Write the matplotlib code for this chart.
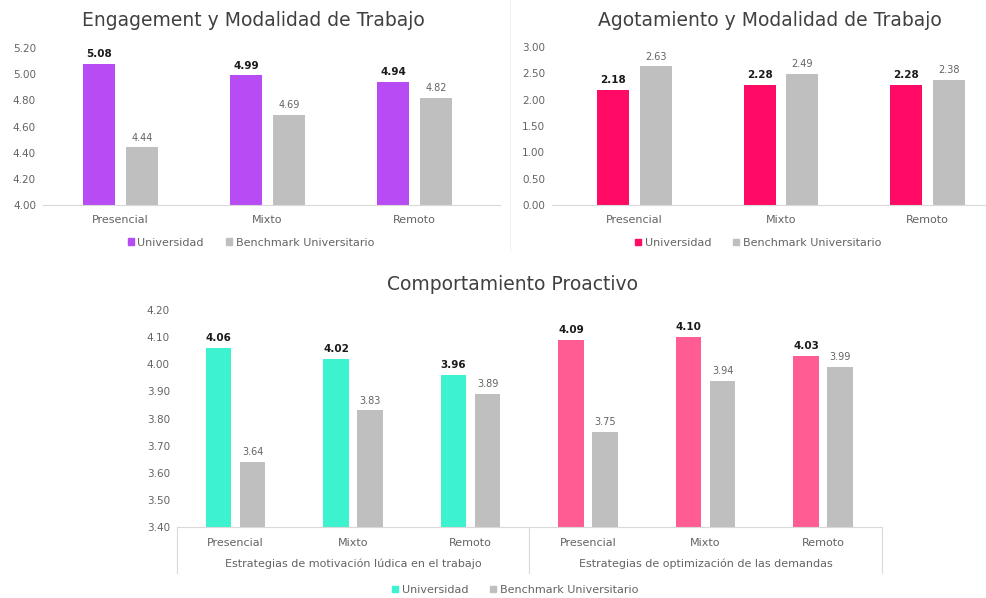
""" engagement, agotamiento y comportamiento proactivo por modalidad de trabajo """

import numpy as np
from matplotlib import pyplot as plt
from matplotlib.patches import Patch

plt.rcParams["font.family"] = ["DejaVu Sans"]

modalidades = ["Presencial", "Mixto", "Remoto"]

engagement_univ = [5.08, 4.99, 4.94]
engagement_bench = [4.44, 4.69, 4.82]
engagement_ticks = [4.00, 4.20, 4.40, 4.60, 4.80, 5.00, 5.20]

agotamiento_univ = [2.18, 2.28, 2.28]
agotamiento_bench = [2.63, 2.49, 2.38]
agotamiento_ticks = [0.00, 0.50, 1.00, 1.50, 2.00, 2.50, 3.00]

grupos_proactivo = ["Estrategias de motivación lúdica en el trabajo",
                    "Estrategias de optimización de las demandas"]
proactivo_univ = [4.06, 4.02, 3.96, 4.09, 4.10, 4.03]
proactivo_bench = [3.64, 3.83, 3.89, 3.75, 3.94, 3.99]
proactivo_ticks = [3.40, 3.50, 3.60, 3.70, 3.80, 3.90, 4.00, 4.10, 4.20]

PURPLE = "#B84CF4"
CRIMSON = "#FF0A64"
TEAL = "#3DF2CF"
ROSE = "#FF5C93"
GREY = "#BFBFBF"
TEXT = "#636363"
TITLE = "#404040"
AXIS = "#D9D9D9"

W, H = 987, 598
WIDTH = 0.22
OFFSET = 0.145


def px_axes(fig, left, top, right, bottom):
	""" add axes given in pixel coordinates measured from the top left corner """
	return fig.add_axes([left/W, 1 - bottom/H, (right - left)/W, (bottom - top)/H])


def style(ax, ticks):
	for side in ["top", "right", "left"]:
		ax.spines[side].set_visible(False)
	ax.spines["bottom"].set_color(AXIS)
	ax.set_yticks(ticks)
	ax.set_yticklabels([f"{t:.2f}" for t in ticks], fontsize=7.5, color=TEXT)
	ax.set_ylim(ticks[0], ticks[-1])
	ax.tick_params(axis="y", length=0, pad=5)
	ax.tick_params(axis="x", length=0, pad=7)


def draw_bars(ax, univ, bench, univ_colors):
	x = np.arange(len(univ))
	b1 = ax.bar(x - OFFSET, univ, WIDTH, color=univ_colors)
	b2 = ax.bar(x + OFFSET, bench, WIDTH, color=GREY)
	for rect, value in zip(b1, univ):
		ax.annotate(f"{value:.2f}", (rect.get_x() + rect.get_width()/2, value),
		            xytext=(0, 3.5), textcoords="offset points", ha="center", va="bottom",
		            fontsize=7.5, fontweight="bold", color="#1a1a1a")
	for rect, value in zip(b2, bench):
		ax.annotate(f"{value:.2f}", (rect.get_x() + rect.get_width()/2, value),
		            xytext=(0, 3.5), textcoords="offset points", ha="center", va="bottom",
		            fontsize=7, color=TEXT)
	return x


def legend(ax, color, x, y):
	handles = [Patch(color=color, label="Universidad"), Patch(color=GREY, label="Benchmark Universitario")]
	ax.legend(handles=handles, loc="center", bbox_to_anchor=(x, y), ncol=2, frameon=False,
	          fontsize=8, labelcolor=TEXT, handlelength=0.55, handleheight=0.55, handletextpad=0.3,
	          columnspacing=2.0)


fig = plt.figure(figsize=(W/100, H/100), dpi=100)

# engagement
ax1 = px_axes(fig, 43, 48, 500, 205)
x = draw_bars(ax1, engagement_univ, engagement_bench, PURPLE)
style(ax1, engagement_ticks)
ax1.set_xlim((43 - 120.5)/147, (500 - 120.5)/147)
ax1.set_xticks(x)
ax1.set_xticklabels(modalidades, fontsize=8, color=TEXT)
fig.text(253/W, 1 - 20/H, "Engagement y Modalidad de Trabajo", fontsize=13.5, color=TITLE,
         ha="center", va="center")
legend(ax1, PURPLE, 0.455, -0.24)

# agotamiento
ax2 = px_axes(fig, 552, 47, 987, 205)
x = draw_bars(ax2, agotamiento_univ, agotamiento_bench, CRIMSON)
style(ax2, agotamiento_ticks)
ax2.set_xlim((552 - 634.5)/146.5, (987 - 634.5)/146.5)
ax2.set_xticks(x)
ax2.set_xticklabels(modalidades, fontsize=8, color=TEXT)
fig.text(770/W, 1 - 20/H, "Agotamiento y Modalidad de Trabajo", fontsize=13.5, color=TITLE,
         ha="center", va="center")
legend(ax2, CRIMSON, 0.474, -0.24)

# faint divider between the two top panels
fig.add_artist(plt.Line2D([510/W, 510/W], [1 - 250/H, 1.0], color="#F0F0F0", lw=0.8))

# comportamiento proactivo, two groups of three modalities
ax3 = px_axes(fig, 176.75, 310, 881.75, 527)
colors = [TEAL]*3 + [ROSE]*3
x = draw_bars(ax3, proactivo_univ, proactivo_bench, colors)
style(ax3, proactivo_ticks)
ax3.set_xlim(-0.5, len(proactivo_univ) - 0.5)
ax3.set_xticks(x)
ax3.set_xticklabels(modalidades*2, fontsize=8, color=TEXT)
ax3.tick_params(axis="x", pad=8)
fig.text(513/W, 1 - 284/H, "Comportamiento Proactivo", fontsize=13.5, color=TITLE,
         ha="center", va="center")

trans = ax3.get_xaxis_transform()
for i, grupo in enumerate(grupos_proactivo):
	ax3.text(1 + 3*i, -0.17, grupo, transform=trans, ha="center", va="center", fontsize=8, color=TEXT)
for xs in [-0.5, 2.5, 5.5]:
	ax3.plot([xs, xs], [0, -0.21], transform=trans, color=AXIS, lw=0.8, clip_on=False)

legend(ax3, TEAL, 0.48, -0.29)

fig.savefig("out.png", dpi=100, facecolor="white")
